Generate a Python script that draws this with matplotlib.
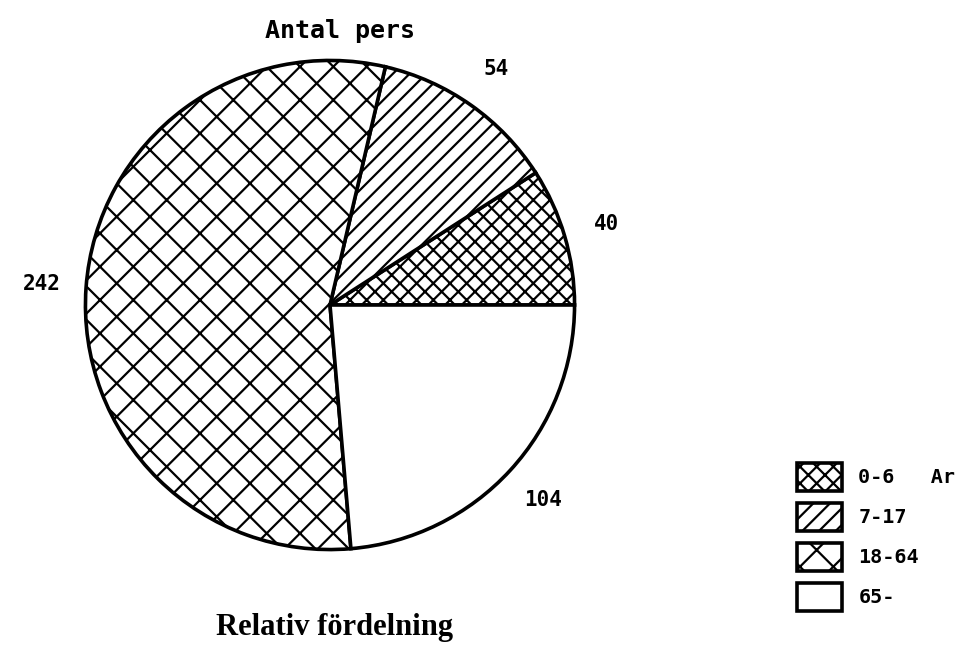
import matplotlib
matplotlib.use('Agg')
import matplotlib.pyplot as plt
import numpy as np

# Antal personer per åldersgrupp
grupper = ['0-6', '7-17', '18-64', '65-']
antal = [40, 54, 242, 104]
legend_labels = ['0-6   Ar', '7-17', '18-64', '65-']
monster = ['xx', '//', 'x', '']

plt.rcParams['hatch.linewidth'] = 1.6
plt.rcParams['hatch.color'] = 'black'

W, H = 957, 664
fig = plt.figure(figsize=(W / 100, H / 100), dpi=100)

# pajens mitt och radie i pixlar
cx, cy, r = 330, 305, 247
ax = fig.add_axes([(cx - r) / W, (H - cy - r) / H, 2 * r / W, 2 * r / H])

wedges, _ = ax.pie(antal, startangle=0, counterclock=True, radius=1,
                   colors=['white'] * len(antal),
                   wedgeprops=dict(edgecolor='black', linewidth=2.6))
for w, h in zip(wedges, monster):
    w.set_hatch(h)
ax.set_xlim(-1.01, 1.01)
ax.set_ylim(-1.01, 1.01)

mono = dict(family='DejaVu Sans Mono', weight='bold')

# värden utanför varje sektor
cum = np.cumsum([0] + antal)
total = cum[-1]
for i, v in enumerate(antal):
    mid = np.deg2rad(360 * (cum[i] + v / 2) / total)
    ax.text(1.18 * np.cos(mid), 1.18 * np.sin(mid), str(v),
            ha='center', va='center', fontsize=15, **mono)

fig.text(340 / W, 1 - 31 / H, 'Antal pers', ha='center', va='center',
         fontsize=18, **mono)
fig.text(335 / W, 1 - 628 / H, 'Relativ fördelning', ha='center', va='center',
         fontsize=22, family='Liberation Serif', weight='bold')

fig.legend(wedges, legend_labels, loc='upper left',
           bbox_to_anchor=(797 / W, 1 - 463 / H), frameon=False,
           prop=dict(size=14.5, **mono), handlelength=2.25, handleheight=1.75,
           handletextpad=0.8, labelspacing=0.6, borderpad=0, borderaxespad=0)

fig.savefig('out.png', dpi=100, facecolor='white')
